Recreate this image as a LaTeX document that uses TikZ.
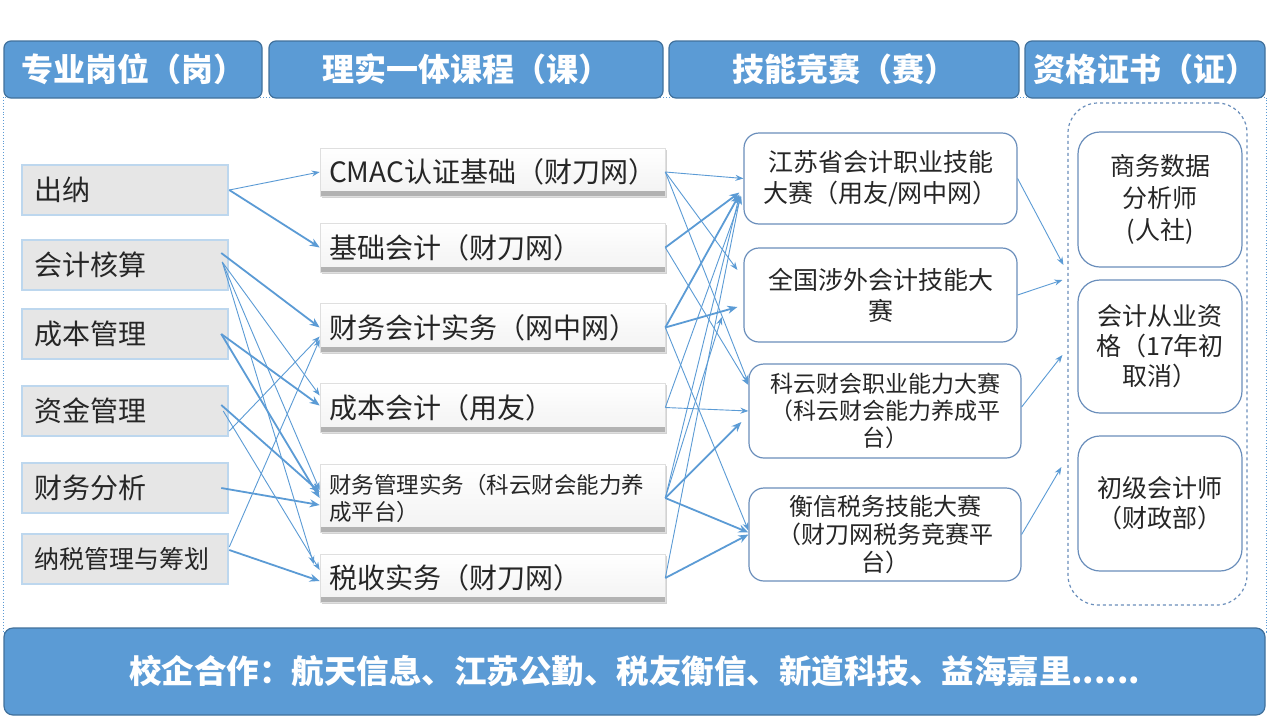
\documentclass[tikz,border=0pt]{standalone}
\usepackage{fontspec}
\setmainfont{Noto Sans CJK SC}
\usetikzlibrary{arrows.meta,shadows}
\definecolor{hdrblue}{HTML}{5B9BD5}
\definecolor{hdrline}{HTML}{41719C}
\definecolor{arrowblue}{HTML}{5B9BD5}
\definecolor{boxline}{HTML}{6A8EBB}
\definecolor{leftfill}{HTML}{E6E6E6}
\definecolor{leftline}{HTML}{BDD7EE}
\definecolor{txt}{HTML}{262626}
\tikzset{
  hdr/.style={draw=hdrline, line width=1.2pt, fill=hdrblue, rounded corners=7pt,
    text=white, font=\fontsize{32pt}{38pt}\selectfont\bfseries, inner sep=0pt, minimum height=57pt},
  posbox/.style={draw=leftline, line width=2.5pt, fill=leftfill, minimum height=50pt,
    text width=182pt, align=left, inner xsep=12pt, inner ysep=0pt,
    font=\fontsize{28pt}{32pt}\selectfont, text=txt},
  course/.style={draw=gray!25, line width=0.6pt, top color=white, bottom color=gray!10,
    text width=327pt, align=left, inner xsep=9pt, inner ysep=0pt,
    font=\fontsize{28pt}{32pt}\selectfont, text=txt,
    drop shadow={shadow xshift=2pt, shadow yshift=-2pt, opacity=0.35},
    path picture={\fill[gray!60] ([yshift=5pt]path picture bounding box.south west) rectangle (path picture bounding box.south east);}},
  comp/.style={draw=boxline, line width=1.2pt, fill=white, rounded corners=15pt,
    align=center, text=txt, inner sep=0pt},
  cert/.style={draw=boxline, line width=1.2pt, fill=white, rounded corners=22pt,
    align=center, text=txt, inner sep=0pt, minimum width=164pt,
    font=\fontsize{25pt}{30pt}\selectfont},
  thinarr/.style={draw=arrowblue, line width=0.9pt, -{Stealth[length=8pt,width=6pt]}},
  thickarr/.style={draw=arrowblue, line width=1.8pt, -{Stealth[length=10pt,width=8pt]}},
  frame/.style={draw=arrowblue, dotted, line width=0.9pt},
}
\begin{document}
\begin{tikzpicture}[x=1pt,y=-1pt]
\useasboundingbox (0,0) rectangle (1268,718);
\fill[white] (0,0) rectangle (1268,718);
\draw[frame] (3,97) rectangle (1266,632);

% headers
\node[hdr, minimum width=258pt] (h1) at (133,69.5) {专业岗位（岗）};
\node[hdr, minimum width=394pt] (h2) at (466,69.5) {理实一体课程（课）};
\node[hdr, minimum width=350pt] (h3) at (844,69.5) {技能竞赛（赛）};
\node[hdr, minimum width=240pt] (h4) at (1145,69.5) {资格证书（证）};

% positions
\node[posbox] (L1) at (125,190) {出纳};
\node[posbox] (L2) at (125,265) {会计核算};
\node[posbox] (L3) at (125,334) {成本管理};
\node[posbox] (L4) at (125,411) {资金管理};
\node[posbox] (L5) at (125,488) {财务分析};
\node[posbox, font=\fontsize{25pt}{30pt}\selectfont] (L6) at (125,559) {纳税管理与筹划};

% courses
\node[course, minimum height=48pt] (M1) at (492.5,172) {CMAC认证基础（财刀网）};
\node[course, minimum height=49pt] (M2) at (492.5,247.5) {基础会计（财刀网）};
\node[course, minimum height=49pt] (M3) at (492.5,327.5) {财务会计实务（网中网）};
\node[course, minimum height=49pt] (M4) at (492.5,407.5) {成本会计（用友）};
\node[course, minimum height=68pt, font=\fontsize{22.5pt}{27pt}\selectfont] (M5) at (492.5,498) {财务管理实务（科云财会能力养\\成平台）};
\node[course, minimum height=48pt] (M6) at (492.5,578) {税收实务（财刀网）};

% competitions
\node[comp, minimum width=273pt, minimum height=91pt, font=\fontsize{25pt}{31pt}\selectfont] (C1) at (880.5,178.5) {江苏省会计职业技能\\大赛（用友/网中网）};
\node[comp, minimum width=273pt, minimum height=94pt, font=\fontsize{25pt}{31pt}\selectfont] (C2) at (880.5,295) {全国涉外会计技能大\\赛};
\node[comp, minimum width=272pt, minimum height=94pt, font=\fontsize{23pt}{27pt}\selectfont] (C3) at (885,411) {科云财会职业能力大赛\\（科云财会能力养成平\\台）};
\node[comp, minimum width=272pt, minimum height=93pt, font=\fontsize{24pt}{28pt}\selectfont] (C4) at (885,534.5) {衡信税务技能大赛\\（财刀网税务竞赛平\\台）};

% certificates
\node[draw=boxline, dashed, line width=1.2pt, rounded corners=30pt, minimum width=179pt, minimum height=502pt, inner sep=0pt] (D) at (1157.5,354) {};
\node[cert, minimum height=135pt, font=\fontsize{25pt}{32pt}\selectfont] (K1) at (1160,199.5) {商务数据\\分析师\\(人社)};
\node[cert, minimum height=133pt] (K2) at (1160,346.5) {会计从业资\\格（17年初\\取消）};
\node[cert, minimum height=135pt] (K3) at (1160,503.5) {初级会计师\\（财政部）};

% bottom bar
\node[draw=hdrline, line width=1.2pt, fill=hdrblue, rounded corners=9pt, minimum width=1261pt, minimum height=87pt, inner sep=0pt, text=white, font=\fontsize{32.5pt}{38pt}\selectfont\bfseries] (B) at (634.5,671.5) {校企合作：航天信息、江苏公勤、税友衡信、新道科技、益海嘉里......};

% positions -> courses
\draw[thinarr] (L1.east) -- (M1.west);
\draw[thickarr] (L1.east) -- (M2.west);
\draw[thickarr] ([shift={(-8pt,12pt)}]L2.east) -- (M3.west);
\draw[thinarr] ([shift={(-7pt,3pt)}]L2.east) -- ([yshift=12pt]M4.west);
\draw[thinarr] ([shift={(-7pt,3pt)}]L2.east) -- ([yshift=8pt]M5.west);
\draw[thinarr] ([shift={(-7pt,3pt)}]L2.east) -- ([shift={(-6pt,14pt)}]M6.west);
\draw[thickarr] ([xshift=-8pt]L3.east) -- ([yshift=2pt]M4.west);
\draw[thickarr] ([xshift=-8pt]L3.east) -- (M5.west);
\draw[thickarr] ([shift={(-8pt,6pt)}]L4.east) -- ([yshift=6pt]M5.west);
\draw[thinarr] ([yshift=-20pt]L4.east) -- ([yshift=-9pt]M3.west);
\draw[thinarr] ([xshift=-6pt]L4.east) -- ([yshift=8pt]M6.west);
\draw[thickarr] ([xshift=-8pt]L5.east) -- ([yshift=-7pt]M5.west);
\draw[thickarr] ([yshift=9pt]L6.east) -- ([yshift=-3pt]M6.west);
\draw[thinarr] ([yshift=12pt]L6.east) -- ([yshift=-12pt]M3.west);

% courses -> competitions
\draw[thinarr] (M1.east) -- (C1.west);
\draw[thinarr] (M1.east) -- ([shift={(-6pt,25pt)}]C2.west);
\draw[thinarr] (M1.east) -- ([yshift=28pt]C3.west);
\draw[thickarr] (M2.east) -- ([shift={(-4pt,-14pt)}]C1.west);
\draw[thinarr] (M2.east) -- ([yshift=26pt]C3.west);
\draw[thickarr] (M3.east) -- ([shift={(-4pt,-16pt)}]C1.west);
\draw[thickarr] (M3.east) -- ([shift={(-6pt,-12pt)}]C2.west);
\draw[thinarr] (M3.east) -- ([yshift=4pt]C4.west);
\draw[thinarr] (M4.east) -- ([shift={(-2pt,-18pt)}]C1.west);
\draw[thinarr] (M4.east) -- (C3.west);
\draw[thinarr] (M5.east) -- ([shift={(-4pt,-17pt)}]C1.west);
\draw[thinarr, shorten >=73pt] (M5.east) -- (C2.north west);
\draw[thickarr] (M5.east) -- ([shift={(-7pt,-11pt)}]C3.west);
\draw[thickarr] (M5.east) -- ([yshift=2pt]C4.west);
\draw[thinarr] (M6.east) -- ([shift={(-3pt,-17pt)}]C1.west);
\draw[thickarr] (M6.east) -- (C4.west);

% competitions -> certificates
\draw[thinarr] (C1.east) -- ([shift={(-4pt,89pt)}]D.west);
\draw[thinarr] (C2.east) -- ([shift={(-5pt,74pt)}]D.west);
\draw[thinarr] ([yshift=4pt]C3.east) -- ([shift={(-5pt,-1pt)}]D.west);
\draw[thinarr] (C4.east) -- ([shift={(-6pt,-113pt)}]D.west);
\end{tikzpicture}
\end{document}
